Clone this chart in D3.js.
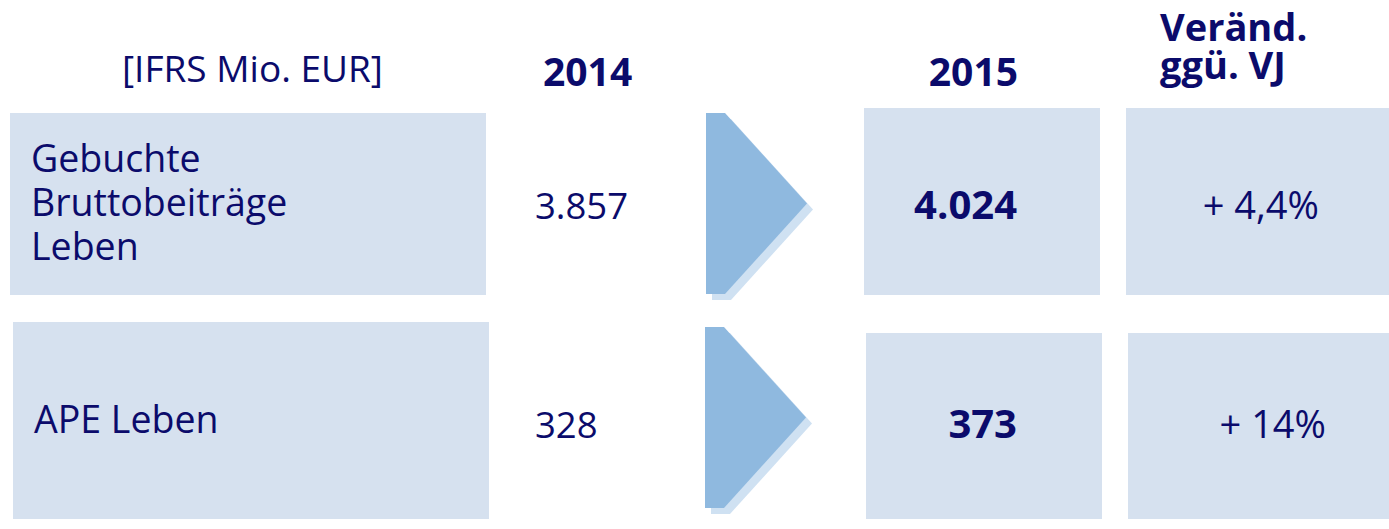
<!DOCTYPE html>
<html>
<head>
<meta charset="utf-8">
<script src="https://cdn.jsdelivr.net/npm/d3@7"></script>
<style>
	body { margin:0; background:#fff; }
	svg { display:block; font-family:"Open Sans", "Noto Sans", sans-serif; }
</style>
</head>
<body>
<div id="table-chart"></div>
<script>
// data
var unitLabel = "[IFRS Mio. EUR]";
var years = ["2014", "2015"];
var changeHeader = ["Veränd.", "ggü. VJ"];
var categories = [["Gebuchte", "Bruttobeiträge", "Leben"], ["APE Leben"]];
var values2014 = ["3.857", "328"];
var values2015 = ["4.024", "373"];
var changes = ["+ 4,4%", "+ 14%"];

var width = 1389, height = 529;
var textColor = "#0b0b6b", boxColor = "#d6e1ef", arrowColor = "#8fb9df", shadowColor = "#cfe1f2";

var svg = d3.select("#table-chart")
	.append("svg")
	.attr("width", width)
	.attr("height", height);

var rows = d3.range(categories.length);

// row geometry (top / bottom of each block per column group)
var labelTop = d3.scaleOrdinal().domain(rows).range([113, 322]);
var labelBottom = d3.scaleOrdinal().domain(rows).range([295, 519]);
var labelLeft = d3.scaleOrdinal().domain(rows).range([10, 13]);
var valTop = d3.scaleOrdinal().domain(rows).range([108, 333]);
var valBottom = d3.scaleOrdinal().domain(rows).range([295, 519]);
var valShift = d3.scaleOrdinal().domain(rows).range([0, 2]);
var arrowTop = d3.scaleOrdinal().domain(rows).range([113, 327]);
var arrowBottom = d3.scaleOrdinal().domain(rows).range([294, 508]);
var arrowLeft = d3.scaleOrdinal().domain(rows).range([706, 705]);
var textBase = d3.scaleOrdinal().domain(rows).range([219, 438]);
var changeRight = d3.scaleOrdinal().domain(rows).range([1319, 1326]);

// column x positions
var col = { v14:535, arrowW:101, arrowFlat:19, v15L:864, v15R:1100, v15Text:1017, chL:1126, chR:1389 };

// label boxes
svg.append("g").selectAll("rect")
	.data(rows).enter().append("rect")
	.attr("x", function(d){ return labelLeft(d); })
	.attr("y", function(d){ return labelTop(d); })
	.attr("width", 476)
	.attr("height", function(d){ return labelBottom(d) - labelTop(d); })
	.attr("fill", boxColor);

// 2015 boxes
svg.append("g").selectAll("rect")
	.data(rows).enter().append("rect")
	.attr("x", function(d){ return col.v15L + valShift(d); })
	.attr("y", function(d){ return valTop(d); })
	.attr("width", col.v15R - col.v15L)
	.attr("height", function(d){ return valBottom(d) - valTop(d); })
	.attr("fill", boxColor);

// change boxes
svg.append("g").selectAll("rect")
	.data(rows).enter().append("rect")
	.attr("x", function(d){ return col.chL + valShift(d); })
	.attr("y", function(d){ return valTop(d); })
	.attr("width", col.chR - col.chL)
	.attr("height", function(d){ return valBottom(d) - valTop(d); })
	.attr("fill", boxColor);

// arrows
function arrowPath(d, dx, dy){
	var x0 = arrowLeft(d) + dx, t = arrowTop(d) + dy, b = arrowBottom(d) + dy;
	var mid = (t + b) / 2;
	return d3.line()([[x0, t], [x0 + col.arrowFlat, t], [x0 + col.arrowW, mid], [x0 + col.arrowFlat, b], [x0, b]]) + "Z";
}
var arrowG = svg.append("g");
arrowG.selectAll(".shadow")
	.data(rows).enter().append("path")
	.attr("class", "shadow")
	.attr("d", function(d){ return arrowPath(d, 6, 6); })
	.attr("fill", shadowColor);
arrowG.selectAll(".arrow")
	.data(rows).enter().append("path")
	.attr("class", "arrow")
	.attr("d", function(d){ return arrowPath(d, 0, 0); })
	.attr("fill", arrowColor);

// headers
var head = svg.append("g").attr("fill", textColor);
head.append("text")
	.attr("x", 122).attr("y", 82)
	.style("font-size", "37px")
	.text(unitLabel);
head.append("text")
	.attr("x", 543).attr("y", 86)
	.style("font-size", "39px").style("font-weight", "bold")
	.text(years[0]);
head.append("text")
	.attr("x", 1018).attr("y", 86)
	.attr("text-anchor", "end")
	.style("font-size", "39px").style("font-weight", "bold")
	.text(years[1]);
head.selectAll(".chHead")
	.data(changeHeader).enter().append("text")
	.attr("class", "chHead")
	.attr("x", 1160)
	.attr("y", function(d, i){ return 41 + i * 38; })
	.style("font-size", "38px").style("font-weight", "bold")
	.text(function(d){ return d; });

// category labels
var catG = svg.append("g").attr("fill", textColor);
rows.forEach(function(r){
	var first = categories[r].length > 1 ? 172 : 433;
	catG.selectAll(".cat" + r)
		.data(categories[r]).enter().append("text")
		.attr("class", "cat" + r)
		.attr("x", labelLeft(r) + 21)
		.attr("y", function(d, i){ return first + i * 44; })
		.style("font-size", "37.5px")
		.text(function(d){ return d; });
});

// values
var vals = svg.append("g").attr("fill", textColor);
vals.selectAll(".v14")
	.data(rows).enter().append("text")
	.attr("class", "v14")
	.attr("x", col.v14)
	.attr("y", function(d){ return textBase(d); })
	.style("font-size", "36.5px")
	.text(function(d){ return values2014[d]; });
vals.selectAll(".v15")
	.data(rows).enter().append("text")
	.attr("class", "v15")
	.attr("x", col.v15Text)
	.attr("y", function(d){ return textBase(d); })
	.attr("text-anchor", "end")
	.style("font-size", "40px").style("font-weight", "bold")
	.text(function(d){ return values2015[d]; });
vals.selectAll(".ch")
	.data(rows).enter().append("text")
	.attr("class", "ch")
	.attr("x", function(d){ return changeRight(d); })
	.attr("y", function(d){ return textBase(d); })
	.attr("text-anchor", "end")
	.style("font-size", "38px")
	.text(function(d){ return changes[d]; })
</script>
</body>
</html>
